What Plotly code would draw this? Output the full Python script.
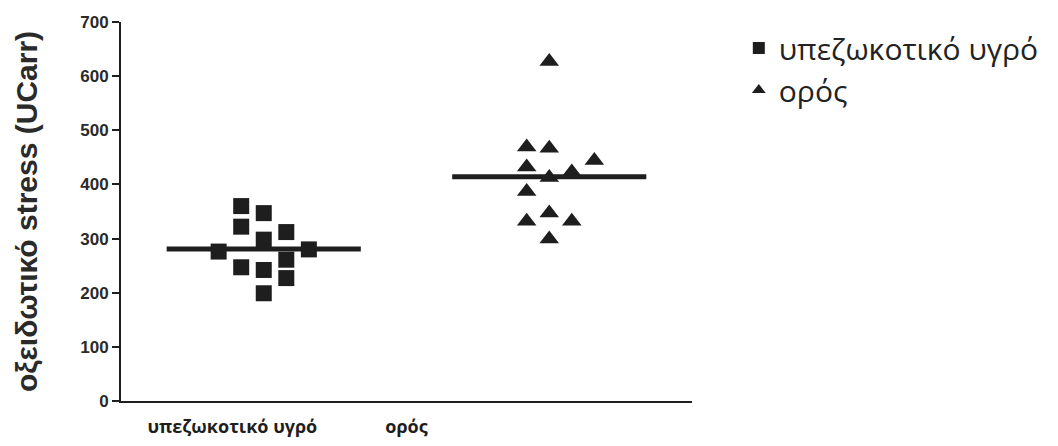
import plotly.graph_objects as go
import numpy as np

# ---- data ----
categories = ["υπεζωκοτικό υγρό", "ορός"]
pleural_values = [360, 347, 322, 312, 298, 276, 280, 247, 242, 261, 227, 199]
pleural_slots = [-1, 0, -1, 1, 0, -2, 2, -1, 0, 1, 1, 0]
serum_values = [627, 469, 467, 444, 432, 423, 413, 387, 332, 347, 332, 299]
serum_slots = [0, -1, 0, 2, -1, 1, 0, -1, -1, 0, 1, 0]
y_ticks = [0, 100, 200, 300, 400, 500, 600, 700]
y_title = "οξειδωτικό stress (UCarr)"

DARK = "#1e1e1e"
STEP = 0.079      # horizontal spacing between scatter columns
HALF = 0.34       # half-width of the mean line

fig = go.Figure()
groups = [
    (categories[0], pleural_values, pleural_slots, "square", 16, 1),
    (categories[1], serum_values, serum_slots, "triangle-up", 17, 2),
]
for name, vals, slots, sym, size, pos in groups:
    fig.add_trace(go.Scatter(
        x=[pos + s * STEP for s in slots], y=vals, mode="markers", name=name,
        marker=dict(symbol=sym, size=size, color=DARK, line=dict(width=0)),
    ))
for name, vals, slots, sym, size, pos in groups:
    m = float(np.mean(vals))
    fig.add_trace(go.Scatter(
        x=[pos - HALF, pos + HALF], y=[m, m], mode="lines", showlegend=False,
        line=dict(color=DARK, width=5),
    ))

fig.update_layout(
    width=1050, height=438,
    margin=dict(l=113, r=366, t=14, b=45),
    plot_bgcolor="white", paper_bgcolor="white",
    showlegend=True,
    legend=dict(x=1.082, xanchor="left", y=1.0, yanchor="top",
                font=dict(family="Open Sans", size=30, color="#222"),
                itemsizing="constant", tracegroupgap=0,
                bgcolor="rgba(0,0,0,0)"),
    xaxis=dict(range=[0.5, 2.5], showline=True, linecolor=DARK, linewidth=2,
               showgrid=False, zeroline=False, ticks="", automargin=False,
               tickmode="array", tickvals=[0.89, 1.5], ticktext=categories,
               ticklabelstandoff=8,
               tickfont=dict(family="Open Sans", size=18, color=DARK, weight="bold")),
    yaxis=dict(range=[0, 700], showline=True, linecolor=DARK, linewidth=2,
               showgrid=False, zeroline=False, ticks="outside", ticklen=7,
               tickwidth=2, tickcolor=DARK, tickvals=y_ticks, automargin=False,
               tickfont=dict(family="Liberation Sans", size=17, color="#2a2a2a", weight="bold"),
               title=dict(text=y_title, standoff=34,
                          font=dict(family="Liberation Sans", size=30, color="#2a2a2a", weight="bold"))),
)

fig.write_html("out.html")
